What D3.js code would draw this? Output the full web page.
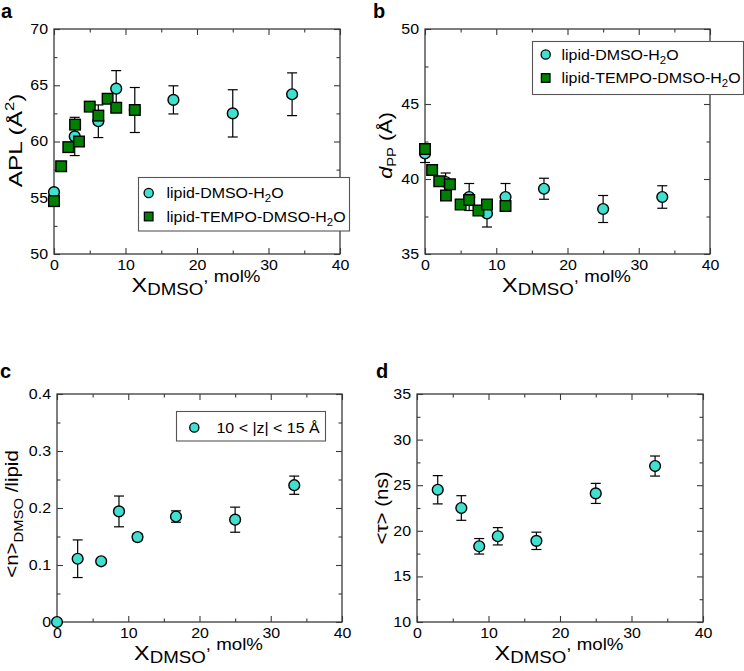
<!DOCTYPE html>
<html><head><meta charset="utf-8">
<script src="https://cdn.jsdelivr.net/npm/d3@7"></script>
<style>
body{margin:0;background:#fff;}
svg{display:block;}
text{font-family:"Liberation Sans",Arial,Helvetica,sans-serif;fill:#000;}
</style></head>
<body>
<svg id="chart" width="744" height="671"></svg>
<script>
// ---------- data ----------
const xTicksMajor = [0, 10, 20, 30, 40];
const xTicksMinor = [5, 15, 25, 35];

// panel a : APL
const aDmsoX   = [0, 2.9, 6.2, 8.7, 11.3, 16.7, 25, 33.3];
const aDmsoY   = [55.5, 60.45, 61.8, 64.7, 62.8, 63.7, 62.5, 64.2];
const aDmsoErr = [0, 1.7, 1.45, 1.6, 2.0, 1.25, 2.1, 1.9];
const aTempoX  = [0, 1, 2, 2.95, 3.5, 5, 6.2, 7.5, 8.7, 11.3];
const aTempoY  = [54.7, 57.8, 59.5, 61.5, 60.0, 63.1, 62.3, 63.8, 63.0, 62.8];
const aYMajor  = [50, 55, 60, 65, 70];
const aYMinor  = [52.5, 57.5, 62.5, 67.5];

// panel b : d_PP
const bDmsoX   = [0, 2.9, 6.2, 8.7, 11.3, 16.7, 25, 33.3];
const bDmsoY   = [41.7, 39.8, 38.8, 37.7, 38.8, 39.35, 38.0, 38.8];
const bDmsoErr = [0.6, 0.6, 0.9, 0.9, 0.9, 0.7, 0.9, 0.75];
const bTempoX  = [0, 1, 2, 2.95, 3.5, 5, 6.2, 7.5, 8.7, 11.3];
const bTempoY  = [42.0, 40.6, 39.85, 38.9, 39.65, 38.3, 38.6, 37.9, 38.3, 38.2];
const bYMajor  = [35, 40, 45, 50];
const bYMinor  = [37.5, 42.5, 47.5];

// panel c : <n>_DMSO / lipid
const cX   = [0, 2.9, 6.2, 8.7, 11.3, 16.7, 25, 33.3];
const cY   = [0, 0.111, 0.1065, 0.194, 0.149, 0.185, 0.1795, 0.24];
const cErr = [0, 0.033, 0.004, 0.027, 0.006, 0.01, 0.022, 0.016];
const cYMajor = [0, 0.1, 0.2, 0.3, 0.4];
const cYMinor = [0.05, 0.15, 0.25, 0.35];
const cYLabels = ["0", "0.1", "0.2", "0.3", "0.4"];

// panel d : <tau>
const dX   = [2.9, 6.2, 8.7, 11.3, 16.7, 25, 33.3];
const dY   = [24.5, 22.5, 18.3, 19.4, 18.9, 24.1, 27.1];
const dErr = [1.55, 1.35, 0.85, 0.95, 0.95, 1.1, 1.1];
const dYMajor = [10, 15, 20, 25, 30, 35];
const dYMinor = [12.5, 17.5, 22.5, 27.5, 32.5];

const legendDmso  = "lipid-DMSO-H";
const legendTempo = "lipid-TEMPO-DMSO-H";
const legendC     = "10 < |z| < 15 Å";

// ---------- styles ----------
const SX = 1.14;              // horizontal text stretch
const CYAN = "#40E0D0", GREEN = "#008000", FRAME = "#3a3a3a";
const R = 5.4, SQ = 10.6;

const svg = d3.select("#chart");

function panel(cfg) {
  const g = svg.append("g");
  const x = d3.scaleLinear().domain([0, 40]).range([cfg.l, cfg.r]);
  const y = d3.scaleLinear().domain(cfg.yDomain).range([cfg.b, cfg.t]);

  function ax(gen, tr, vals, size, labels) {
    const a = gen.tickValues(vals).tickSizeInner(size).tickSizeOuter(0);
    if (labels) a.tickFormat(labels).tickPadding(6); else a.tickFormat("");
    const s = g.append("g").attr("transform", tr).call(a);
    s.select(".domain").remove();
    s.selectAll("line").attr("stroke", FRAME).attr("stroke-width", 1.1);
    s.selectAll("text").attr("font-size", 14).attr("fill", "#000");
    return s;
  }
  const bx = ax(d3.axisBottom(x), `translate(0,${cfg.b})`, xTicksMajor, -6, d => d3.format("d")(d));
  bx.selectAll("text").attr("transform", `scale(${SX},1)`).attr("y", 6);
  ax(d3.axisBottom(x), `translate(0,${cfg.b})`, xTicksMinor, -3.5, null);
  ax(d3.axisTop(x), `translate(0,${cfg.t})`, xTicksMajor, -6, null);
  ax(d3.axisTop(x), `translate(0,${cfg.t})`, xTicksMinor, -3.5, null);
  const ly = ax(d3.axisLeft(y), `translate(${cfg.l},0)`, cfg.yMajor, -6, cfg.yFmt);
  ly.selectAll("text").attr("x", -6 / SX).attr("transform", `scale(${SX},1)`);
  ax(d3.axisLeft(y), `translate(${cfg.l},0)`, cfg.yMinor, -3.5, null);
  ax(d3.axisRight(y), `translate(${cfg.r},0)`, cfg.yMajor, -6, null);
  ax(d3.axisRight(y), `translate(${cfg.r},0)`, cfg.yMinor, -3.5, null);

  g.append("rect").attr("x", cfg.l).attr("y", cfg.t)
    .attr("width", cfg.r - cfg.l).attr("height", cfg.b - cfg.t)
    .attr("fill", "none").attr("stroke", FRAME).attr("stroke-width", 1.3);

  const pts = cfg.cx.map((v, i) => ({x: v, y: cfg.cy[i], e: cfg.ce[i]}));
  const eb = g.append("g").attr("stroke", "#000").attr("stroke-width", 1.2);
  pts.filter(p => p.e > 0).forEach(p => {
    const X = x(p.x), y1 = y(p.y - p.e), y2 = y(p.y + p.e);
    eb.append("line").attr("x1", X).attr("x2", X).attr("y1", y1).attr("y2", y2);
    eb.append("line").attr("x1", X - 5).attr("x2", X + 5).attr("y1", y1).attr("y2", y1);
    eb.append("line").attr("x1", X - 5).attr("x2", X + 5).attr("y1", y2).attr("y2", y2);
  });
  g.append("g").selectAll("circle").data(pts).join("circle")
    .attr("cx", d => x(d.x)).attr("cy", d => y(d.y)).attr("r", R)
    .attr("fill", CYAN).attr("stroke", "#000").attr("stroke-width", 1.4);

  if (cfg.sx) {
    const sq = cfg.sx.map((v, i) => ({x: v, y: cfg.sy[i]}));
    g.append("g").selectAll("rect").data(sq).join("rect")
      .attr("x", d => x(d.x) - SQ / 2).attr("y", d => y(d.y) - SQ / 2)
      .attr("width", SQ).attr("height", SQ)
      .attr("fill", GREEN).attr("stroke", "#000").attr("stroke-width", 1.4);
  }

  // x title
  const xt = g.append("text").attr("text-anchor", "middle")
    .attr("transform", `translate(${(cfg.l + cfg.r) / 2 - 1},${cfg.b + 38}) scale(1.17,1)`);
  xt.append("tspan").attr("font-size", 20).text("X");
  xt.append("tspan").attr("font-size", 16).attr("dy", 3).text("DMSO");
  xt.append("tspan").attr("font-size", 16).attr("dy", -13).text(", mol%");

  // y title
  const yt = g.append("text").attr("text-anchor", "middle")
    .attr("transform", `translate(${cfg.ytx},${(cfg.t + cfg.b) / 2 + (cfg.ydy || 0)}) rotate(-90) scale(${cfg.ysx || SX},1)`);
  cfg.ytitle(yt);

  g.append("text").attr("x", cfg.lx).attr("y", cfg.ly).attr("font-size", 20)
    .attr("font-weight", "bold").text(cfg.letter);

  return {g, x, y};
}

function legend(g, box, items) {
  g.append("rect").attr("x", box.x).attr("y", box.y).attr("width", box.w).attr("height", box.h)
    .attr("fill", "#fff").attr("stroke", "#555").attr("stroke-width", 1.1);
  items.forEach((it, i) => {
    const cy = box.y + box.first + i * box.step;
    if (it.shape === "circle") {
      g.append("circle").attr("cx", box.sx).attr("cy", cy).attr("r", 4.6)
        .attr("fill", CYAN).attr("stroke", "#000").attr("stroke-width", 1.3);
    } else {
      g.append("rect").attr("x", box.sx - 4.3).attr("y", cy - 4.3).attr("width", 8.6).attr("height", 8.6)
        .attr("fill", GREEN).attr("stroke", "#000").attr("stroke-width", 1.3);
    }
    const t = g.append("text").attr("font-size", 14)
      .attr("transform", `translate(${box.tx},${cy + 5}) scale(${SX},1)`);
    if (it.sub) {
      t.append("tspan").text(it.label);
      t.append("tspan").attr("font-size", 10).attr("dy", 4).text("2");
      t.append("tspan").attr("dy", -4).text("O");
    } else t.text(it.label);
  });
}

// ---- panel a ----
const pa = panel({
  l: 54, r: 340, t: 29, b: 254, yDomain: [50, 70], yMajor: aYMajor, yMinor: aYMinor,
  yFmt: d => d3.format("d")(d),
  cx: aDmsoX, cy: aDmsoY, ce: aDmsoErr, sx: aTempoX, sy: aTempoY,
  ytx: 22, ysx: 1.28, ydy: -1, letter: "a", lx: 1, ly: 18,
  ytitle: t => {
    t.attr("font-size", 19);
    t.append("tspan").text("APL (Å");
    t.append("tspan").attr("font-size", 13).attr("dy", -8).text("2");
    t.append("tspan").attr("dy", 8).text(")");
  }
});
legend(pa.g, {x: 138.5, y: 177.5, w: 211, h: 53.5, first: 15.5, step: 23.5, sx: 148.7, tx: 166.5},
  [{shape: "circle", label: legendDmso, sub: true}, {shape: "square", label: legendTempo, sub: true}]);

// ---- panel b ----
const pb = panel({
  l: 425, r: 710, t: 29, b: 254, yDomain: [35, 50], yMajor: bYMajor, yMinor: bYMinor,
  yFmt: d => d3.format("d")(d),
  cx: bDmsoX, cy: bDmsoY, ce: bDmsoErr, sx: bTempoX, sy: bTempoY,
  ytx: 392, ydy: 4, letter: "b", lx: 373, ly: 18,
  ytitle: t => {
    t.attr("font-size", 19);
    t.append("tspan").attr("font-style", "italic").text("d");
    t.append("tspan").attr("font-size", 13).attr("dy", 4).text("PP");
    t.append("tspan").attr("dy", -4).text(" (Å)");
  }
});
legend(pb.g, {x: 532.5, y: 41.5, w: 211, h: 53, first: 13, step: 23.5, sx: 545.7, tx: 561.5},
  [{shape: "circle", label: legendDmso, sub: true}, {shape: "square", label: legendTempo, sub: true}]);

// ---- panel c ----
const pc = panel({
  l: 57, r: 342, t: 394, b: 622, yDomain: [0, 0.4], yMajor: cYMajor, yMinor: cYMinor,
  yFmt: (d, i) => cYLabels[i],
  cx: cX, cy: cY, ce: cErr,
  ytx: 18, ydy: 6, letter: "c", lx: 0, ly: 378,
  ytitle: t => {
    t.attr("font-size", 18);
    t.append("tspan").text("<n>");
    t.append("tspan").attr("font-size", 13).attr("dy", 5).text("DMSO");
    t.append("tspan").attr("dy", -5).text(" /lipid");
  }
});
legend(pc.g, {x: 176.5, y: 411.5, w: 149, h: 29.5, first: 16, step: 0, sx: 194.3, tx: 216.5},
  [{shape: "circle", label: legendC}]);

// ---- panel d ----
const pd = panel({
  l: 417, r: 703, t: 394, b: 622, yDomain: [10, 35], yMajor: dYMajor, yMinor: dYMinor,
  yFmt: d => d3.format("d")(d),
  cx: dX, cy: dY, ce: dErr,
  ytx: 388, letter: "d", lx: 376, ly: 378,
  ytitle: t => {
    t.attr("font-size", 18);
    t.text("<τ> (ns)");
  }
});
</script>
</body></html>
